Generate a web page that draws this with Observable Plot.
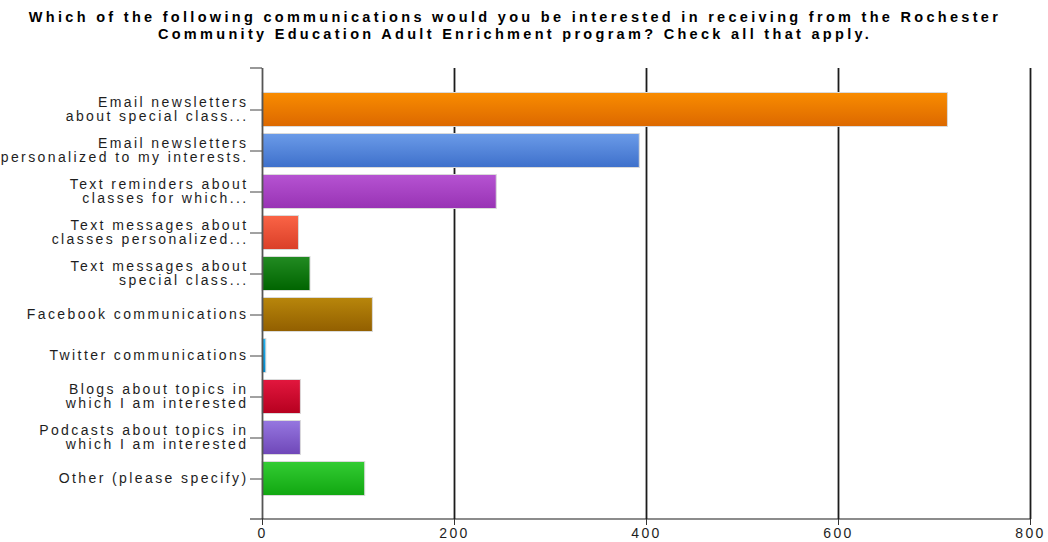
<!DOCTYPE html>
<html><head><meta charset="utf-8">
<script src="https://cdn.jsdelivr.net/npm/d3@7"></script>
<script src="https://cdn.jsdelivr.net/npm/@observablehq/plot@0.6"></script>
<style>
html,body{margin:0;padding:0;background:#fff;}
body{width:1048px;height:542px;overflow:hidden;font-family:"Liberation Sans",Arial,sans-serif;}
#title{height:48px;box-sizing:border-box;padding-top:9px;padding-right:18px;text-align:center;font-weight:bold;font-size:14.5px;line-height:16.6px;letter-spacing:3.3px;color:#000;white-space:nowrap;}
#chart svg{font-family:"Liberation Sans",Arial,sans-serif;font-size:14px;color:#1e1e1e;}
#chart svg text{letter-spacing:2.4px;}
</style></head><body>
<div id="title">Which of the following communications would you be interested in receiving from the Rochester<br>Community Education Adult Enrichment program? Check all that apply.</div>
<div id="chart"></div>
<script>
const categories = [
  "Email newsletters\nabout special class...",
  "Email newsletters\npersonalized to my interests.",
  "Text reminders about\nclasses for which...",
  "Text messages about\nclasses personalized...",
  "Text messages about\nspecial class...",
  "Facebook communications",
  "Twitter communications",
  "Blogs about topics in\nwhich I am interested",
  "Podcasts about topics in\nwhich I am interested",
  "Other (please specify)"
];
const values = [714, 393, 244, 38, 50, 115, 4, 40, 40, 107];
const xTicks = [0, 200, 400, 600, 800];

// palette (top / bottom of each bar's vertical gradient)
const gradTop    = ["#f98c00", "#6b9be8", "#b653d2", "#fa6446", "#228b22", "#b8860b", "#22b4f2", "#e2173e", "#9677e0", "#33cc33"];
const gradBottom = ["#dc6800", "#3e70cb", "#9833b4", "#da3f28", "#006400", "#925f00", "#0088cc", "#b6001f", "#6f47b8", "#11a711"];

const data = categories.map((c, i) => ({category: c, value: values[i], grad: `url(#bar-grad-${i})`}));

const plot = Plot.plot({
  width: 1048,
  height: 494,
  marginTop: 20,
  marginBottom: 23,
  marginLeft: 262,
  marginRight: 18,
  x: {domain: [0, 800], ticks: xTicks, label: null},
  y: {domain: categories, paddingInner: 0, paddingOuter: 0.5, align: 0.5, label: null},
  color: {type: "identity"},
  marks: [
    Plot.ruleX(xTicks.slice(1), {stroke: "#1c1c1c", strokeWidth: 1.8}),
    Plot.barX(data, {x: "value", y: "category", fill: "grad", stroke: "#dadada", strokeWidth: 1, insetTop: 3.5, insetBottom: 3.5}),
    Plot.ruleX([0], {stroke: "#555", strokeWidth: 1.8}),
    // x axis baseline (extends slightly left of the y axis)
    Plot.barX([0], {x1: -12.5, x2: 800, insetTop: 450.5, insetBottom: -0.5, fill: "#1a1a1a"}),
    // top end tick of the y axis
    Plot.barX([0], {x1: -12.5, x2: 0, insetTop: -0.5, insetBottom: 450.5, fill: "#333"}),
    Plot.axisX({ticks: xTicks, tickSize: 6, tickPadding: 3, label: null, stroke: "#333", fontSize: 14}),
    Plot.axisY({tickSize: 12, tickPadding: 2, label: null, stroke: "#444", fontSize: 14, lineHeight: 1.0})
  ]
});

// gradient definitions referenced by the bars
const ns = "http://www.w3.org/2000/svg";
const defs = document.createElementNS(ns, "defs");
gradTop.forEach((top, i) => {
  const g = document.createElementNS(ns, "linearGradient");
  g.setAttribute("id", `bar-grad-${i}`);
  g.setAttribute("x1", "0"); g.setAttribute("y1", "0");
  g.setAttribute("x2", "0"); g.setAttribute("y2", "1");
  [[0, top], [1, gradBottom[i]]].forEach(([o, c]) => {
    const s = document.createElementNS(ns, "stop");
    s.setAttribute("offset", o);
    s.setAttribute("stop-color", c);
    g.appendChild(s);
  });
  defs.appendChild(g);
});
plot.insertBefore(defs, plot.firstChild);
document.getElementById("chart").appendChild(plot);
</script>
</body></html>
